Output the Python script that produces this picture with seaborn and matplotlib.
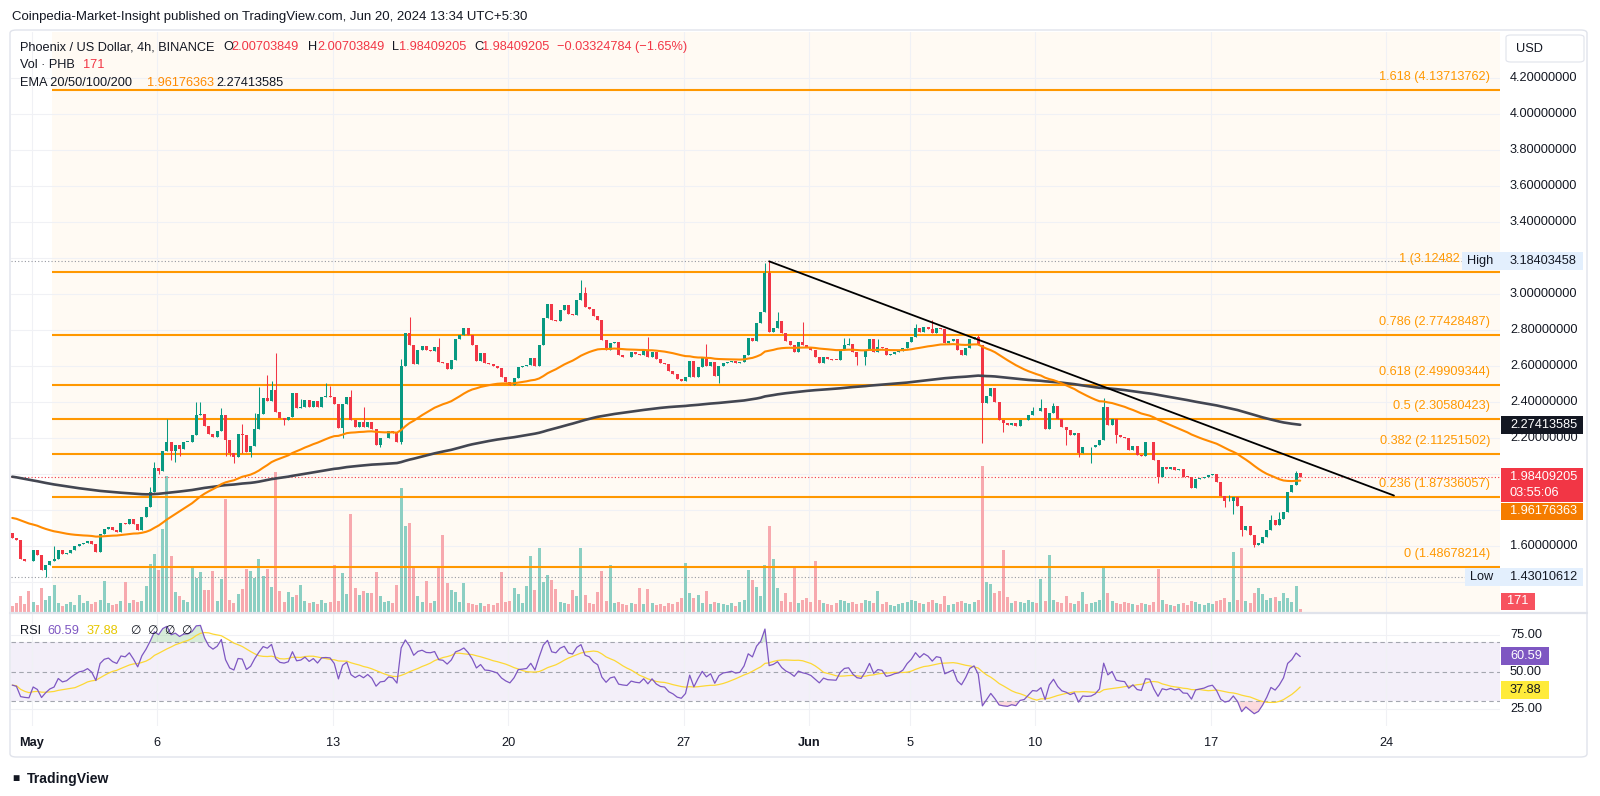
import numpy as np
import pandas as pd
import matplotlib
matplotlib.use("Agg")
import matplotlib.pyplot as plt
from matplotlib.patches import Rectangle, FancyBboxPatch
from matplotlib.lines import Line2D
import seaborn as sns

# ---------------- data ----------------
first_open = 1.674
closes = [
    1.648, 1.637, 1.531, 1.522, 1.517, 1.578, 1.555, 1.470, 1.498, 1.520,
    1.531, 1.583, 1.556, 1.563, 1.583, 1.600, 1.615, 1.620, 1.633, 1.615,
    1.568, 1.667, 1.698, 1.707, 1.689, 1.680, 1.730, 1.726, 1.754, 1.726,
    1.689, 1.763, 1.818, 1.902, 2.037, 2.022, 2.133, 2.180, 2.133, 2.161,
    2.143, 2.180, 2.183, 2.222, 2.328, 2.337, 2.272, 2.226, 2.207, 2.240,
    2.328, 2.190, 2.118, 2.099, 2.225, 2.220, 2.127, 2.160, 2.250, 2.336,
    2.423, 2.410, 2.470, 2.349, 2.312, 2.305, 2.320, 2.450, 2.368, 2.377,
    2.414, 2.377, 2.410, 2.373, 2.432, 2.435, 2.432, 2.392, 2.257, 2.392,
    2.428, 2.300, 2.266, 2.290, 2.262, 2.292, 2.253, 2.164, 2.200, 2.205,
    2.241, 2.232, 2.182, 2.603, 2.784, 2.720, 2.614, 2.690, 2.714, 2.690,
    2.687, 2.707, 2.627, 2.621, 2.584, 2.636, 2.751, 2.775, 2.812, 2.775,
    2.719, 2.633, 2.673, 2.618, 2.614, 2.603, 2.590, 2.544, 2.516, 2.497,
    2.534, 2.599, 2.603, 2.608, 2.649, 2.603, 2.719, 2.868, 2.945, 2.858,
    2.850, 2.914, 2.942, 2.892, 2.885, 2.970, 3.010, 2.932, 2.920, 2.880,
    2.858, 2.747, 2.692, 2.729, 2.738, 2.664, 2.655, 2.650, 2.680, 2.670,
    2.665, 2.690, 2.650, 2.680, 2.640, 2.620, 2.615, 2.577, 2.559, 2.530,
    2.520, 2.540, 2.633, 2.543, 2.595, 2.645, 2.603, 2.625, 2.547, 2.600,
    2.620, 2.625, 2.632, 2.620, 2.625, 2.664, 2.757, 2.740, 2.844, 2.905,
    3.117, 2.794, 2.812, 2.850, 2.785, 2.744, 2.720, 2.682, 2.738, 2.720,
    2.710, 2.692, 2.655, 2.617, 2.655, 2.640, 2.637, 2.635, 2.690, 2.720,
    2.725, 2.682, 2.655, 2.650, 2.690, 2.750, 2.683, 2.710, 2.705, 2.664,
    2.670, 2.680, 2.685, 2.700, 2.738, 2.765, 2.812, 2.790, 2.817, 2.806,
    2.784, 2.812, 2.808, 2.730, 2.740, 2.750, 2.690, 2.665, 2.700, 2.750,
    2.765, 2.720, 2.395, 2.436, 2.480, 2.405, 2.300, 2.284, 2.275, 2.285,
    2.270, 2.300, 2.305, 2.330, 2.355, 2.350, 2.368, 2.250, 2.340, 2.380,
    2.310, 2.262, 2.247, 2.220, 2.230, 2.118, 2.155, 2.150, 2.152, 2.164,
    2.190, 2.377, 2.275, 2.306, 2.220, 2.210, 2.205, 2.136, 2.160, 2.110,
    2.100, 2.182, 2.178, 2.080, 1.988, 2.043, 2.030, 2.040, 2.023, 2.030,
    1.988, 1.985, 1.923, 1.975, 1.980, 1.985, 1.995, 2.000, 1.960, 1.880,
    1.850, 1.855, 1.877, 1.825, 1.692, 1.715, 1.665, 1.609, 1.620, 1.650,
    1.690, 1.745, 1.720, 1.750, 1.794, 1.905, 1.940, 2.007, 1.984,
]
# notable wick extremes (candle index -> price)
wick_high = {10: 1.60, 33: 1.93, 34: 2.07, 37: 2.31, 44: 2.40, 45: 2.40, 50: 2.37,
             55: 2.28, 58: 2.34, 59: 2.485, 61: 2.553, 62: 2.52, 63: 2.673, 69: 2.418,
             75: 2.51, 76: 2.493, 81: 2.469, 84: 2.377, 93: 2.64, 95: 2.873, 102: 2.756,
             136: 3.081, 137: 3.04, 152: 2.766, 166: 2.725, 180: 3.173, 181: 3.18403458,
             183: 2.905, 189: 2.849, 199: 2.757, 200: 2.757, 207: 2.751, 216: 2.836,
             220: 2.858, 231: 2.775, 244: 2.373, 246: 2.418, 249: 2.395, 261: 2.423,
             291: 1.886, 301: 1.775, 303: 1.793, 307: 2.02}
wick_low = {8: 1.43010612, 35: 2.0, 38: 2.078, 39: 2.07, 40: 2.10, 51: 2.10, 52: 2.10,
            53: 2.065, 55: 2.12, 57: 2.099, 65: 2.275, 79: 2.201, 88: 2.15, 93: 2.17,
            169: 2.507, 202: 2.608, 204: 2.608, 232: 2.173, 237: 2.238, 252: 2.164,
            255: 2.099, 258: 2.066, 264: 2.177, 274: 1.951, 290: 1.821, 292: 1.781,
            294: 1.66, 297: 1.599}
volumes = [
    6, 9, 16, 8, 21, 10, 7, 24, 12, 16,
    27, 9, 6, 8, 10, 7, 17, 9, 11, 8,
    10, 12, 31, 9, 7, 8, 11, 30, 9, 12,
    10, 11, 26, 48, 58, 42, 83, 136, 56, 20,
    16, 12, 10, 44, 34, 40, 22, 22, 41, 11,
    33, 113, 12, 9, 18, 23, 43, 41, 34, 53,
    36, 43, 25, 140, 21, 10, 20, 15, 17, 27,
    11, 9, 10, 8, 12, 9, 10, 47, 11, 39,
    18, 98, 24, 17, 21, 19, 19, 40, 16, 10,
    11, 9, 27, 124, 86, 89, 44, 16, 10, 31,
    9, 11, 46, 77, 29, 22, 20, 10, 29, 9,
    8, 7, 9, 6, 8, 7, 9, 40, 10, 11,
    24, 18, 9, 26, 56, 22, 64, 30, 37, 32,
    23, 10, 9, 8, 22, 16, 64, 17, 9, 8,
    20, 41, 11, 47, 9, 10, 8, 7, 9, 8,
    24, 8, 23, 9, 7, 8, 6, 9, 8, 10,
    14, 49, 19, 14, 17, 9, 21, 8, 10, 9,
    8, 7, 9, 6, 10, 12, 42, 32, 25, 16,
    47, 86, 53, 24, 11, 19, 10, 44, 9, 12,
    14, 10, 51, 12, 9, 8, 7, 9, 12, 11,
    9, 10, 8, 9, 12, 11, 9, 21, 8, 10,
    7, 6, 8, 9, 10, 12, 11, 9, 8, 10,
    12, 9, 8, 16, 7, 8, 10, 11, 9, 8,
    10, 12, 146, 30, 28, 19, 21, 62, 15, 9,
    11, 10, 9, 12, 10, 9, 33, 11, 57, 12,
    10, 9, 16, 9, 8, 11, 20, 8, 9, 10,
    12, 44, 19, 11, 9, 8, 10, 9, 8, 7,
    9, 8, 7, 10, 43, 12, 8, 7, 6, 8,
    9, 7, 11, 10, 8, 7, 9, 8, 11, 12,
    14, 10, 60, 12, 64, 11, 9, 19, 24, 18,
    12, 14, 15, 11, 19, 14, 10, 26, 3,
]
first_candle = "2024-04-30 05:30"
ema50_seed = 1.763
ema200_seed = 1.991
rsi_seed_gain, rsi_seed_loss = 0.018, 0.024

fib_levels = ["0", "0.236", "0.382", "0.5", "0.618", "0.786", "1", "1.618"]
fib_prices = [1.48678214, 1.87336057, 2.11251502, 2.30580423, 2.49909344,
              2.77428487, 3.12482632, 4.13713762]
fib_visible_text = {"1": "1 (3.12482"}   # part left uncovered by the High label
fib_start = "2024-05-01 19:48"
trend_pts = [("2024-05-30 09:30", 3.18403458), ("2024-06-24 07:10", 1.883)]

grid_prices = [4.2, 4.0, 3.8, 3.6, 3.4, 3.2, 3.0, 2.8, 2.6, 2.4, 2.2, 2.0, 1.8, 1.6, 1.4]
price_labels = [4.2, 4.0, 3.8, 3.6, 3.4, 3.0, 2.8, 2.6, 2.4, 2.2, 1.6]
rsi_ticks = [75, 50, 25]
date_ticks = ["2024-05-01", "2024-05-06", "2024-05-13", "2024-05-20", "2024-05-27",
              "2024-06-01", "2024-06-05", "2024-06-10", "2024-06-17", "2024-06-24"]
date_labels = ["May", "6", "13", "20", "27", "Jun", "5", "10", "17", "24"]
bold_labels = {"May", "Jun"}

last_price, ema50_last, ema200_last = 1.98409205, 1.96176363, 2.27413585
high_val, low_val = 3.18403458, 1.43010612
rsi_last, rsi_ma_last = 60.59, 37.88

# ---------------- derived series ----------------
sns.set_theme(style="white")
plt.rcParams["font.family"] = ["Liberation Sans", "DejaVu Sans"]

origin = pd.Timestamp("2024-05-01")
def to_d(ts):
    return (pd.Timestamp(ts) - origin) / pd.Timedelta("1D")

times = pd.date_range(first_candle, periods=len(closes), freq="4h")
xd = np.asarray((times - origin) / pd.Timedelta("1D"), dtype=float)
c = np.array(closes)
o = np.array([first_open] + closes[:-1])
hi = np.maximum(o, c)
lo = np.minimum(o, c)
for k, v in wick_high.items():
    hi[k] = max(hi[k], v)
for k, v in wick_low.items():
    lo[k] = min(lo[k], v)
up = c >= o
GREEN, RED = "#089981", "#F23645"
ccol = np.where(up, GREEN, RED)
vcol = np.where(up, "#8CCFC3", "#F7A9AE")

ema50 = pd.Series([ema50_seed] + closes).ewm(span=50, adjust=False).mean().iloc[1:].values
ema200 = pd.Series([ema200_seed] + closes).ewm(span=200, adjust=False).mean().iloc[1:].values
chg = c - o
ag = pd.Series(np.r_[rsi_seed_gain, np.clip(chg, 0, None)]).ewm(alpha=1/14, adjust=False).mean().iloc[1:].values
al = pd.Series(np.r_[rsi_seed_loss, np.clip(-chg, 0, None)]).ewm(alpha=1/14, adjust=False).mean().iloc[1:].values
rsi = 100 - 100 / (1 + ag / al)
rsi_ma = pd.Series(rsi).rolling(14, min_periods=1).mean().values
df = pd.DataFrame({"d": xd, "ema50": ema50, "ema200": ema200, "rsi": rsi, "rsi_ma": rsi_ma})

# ---------------- layout ----------------
W, H = 1600, 796
fig = plt.figure(figsize=(W / 100, H / 100), dpi=100)
fig.patch.set_facecolor("white")
def X(px): return px / W
def Y(py): return 1 - py / H
def rect(l, t, r, b): return [X(l), Y(b), X(r) - X(l), Y(t) - Y(b)]
def fs(px): return px * 0.72

XMIN, XMAX = -0.821, 58.525
PMIN, PMAX = 1.236, 4.458
RMIN, RMAX = 13.2, 89.1

main_rect = rect(11, 32, 1500, 612)
ax_bg = fig.add_axes(main_rect)
ax_vol = fig.add_axes(main_rect, sharex=ax_bg)
ax = fig.add_axes(main_rect, sharex=ax_bg)
ax_rsi = fig.add_axes(rect(11, 614, 1500, 726), sharex=ax_bg)
for a in (ax_bg, ax_vol, ax, ax_rsi):
    a.set_axis_off()
    a.patch.set_alpha(0)
ax_bg.set_ylim(PMIN, PMAX)
ax.set_ylim(PMIN, PMAX)
ax_vol.set_ylim(0, 580)
ax_rsi.set_ylim(RMIN, RMAX)
ax_bg.set_xlim(XMIN, XMAX)

tick_d = [to_d(t) for t in date_ticks]
fib_x0 = to_d(fib_start)

# background: cream fib zone + grid
ax_bg.axvspan(fib_x0, XMAX, color="#FFFAF3", lw=0, zorder=0)
for p in grid_prices:
    ax_bg.axhline(p, color="#F0F1F5", lw=0.8, zorder=1)
for d in tick_d:
    ax_bg.axvline(d, color="#F0F1F5", lw=0.8, zorder=1)
    ax_rsi.axvline(d, color="#F0F1F5", lw=0.8, zorder=1)

# volume
ax_vol.bar(xd, volumes, width=0.12, color=vcol, linewidth=0, zorder=2)

# fib lines
ax.hlines(fib_prices, fib_x0, XMAX, color="#FF9800", lw=1.5, zorder=2)
# high / low / last price dotted lines
ax.axhline(high_val, color="#9598A1", lw=0.8, ls=(0, (1, 2)), zorder=2)
ax.axhline(low_val, color="#9598A1", lw=0.8, ls=(0, (1, 2)), zorder=2)
ax.axhline(last_price, color=RED, lw=0.8, ls=(0, (1, 2)), zorder=2)

# candles
ax.vlines(xd, lo, hi, colors=ccol, lw=0.75, zorder=3)
ax.bar(xd, np.maximum(np.abs(c - o), 0.005), bottom=np.minimum(o, c), width=0.12,
       color=ccol, linewidth=0, zorder=3.1)

# EMAs
sns.lineplot(data=df, x="d", y="ema200", ax=ax, color="#434651", lw=1.9, zorder=4)
sns.lineplot(data=df, x="d", y="ema50", ax=ax, color="#FF8A00", lw=1.5, zorder=4.1)

# trend line
tx = [to_d(t) for t, _ in trend_pts]
ty = [p for _, p in trend_pts]
ax.plot(tx, ty, color="black", lw=1.3, zorder=5)
ax.set_xlim(XMIN, XMAX)
ax.set_ylim(PMIN, PMAX)

# RSI pane
ax_rsi.axhspan(30, 70, color="#7E57C2", alpha=0.09, lw=0, zorder=0)
for v in (25, 75):
    ax_rsi.axhline(v, color="#F0F1F5", lw=0.8, zorder=1)
for v in (70, 50, 30):
    ax_rsi.axhline(v, color="#A3A6AF", lw=0.8, ls=(0, (4, 3)), zorder=1.5)
ax_rsi.fill_between(xd, 70, rsi, where=rsi > 70, interpolate=True, color="#66BB6A", alpha=0.25, lw=0)
ax_rsi.fill_between(xd, 30, rsi, where=rsi < 30, interpolate=True, color="#F23645", alpha=0.18, lw=0)
sns.lineplot(data=df, x="d", y="rsi_ma", ax=ax_rsi, color="#FDD835", lw=0.9, zorder=3)
sns.lineplot(data=df, x="d", y="rsi", ax=ax_rsi, color="#7E57C2", lw=0.9, zorder=4)
ax_rsi.set_xlim(XMIN, XMAX)
ax_rsi.set_ylim(RMIN, RMAX)
for a in (ax, ax_rsi, ax_bg, ax_vol):
    a.set_axis_off()

# ---------------- helpers for annotations ----------------
fig.canvas.draw()
def py_price(p):
    return H - ax.transData.transform((0, p))[1]
def py_rsi(v):
    return H - ax_rsi.transData.transform((0, v))[1]
def ftext(x, y, s, **kw):
    kw.setdefault("va", "center")
    kw.setdefault("fontsize", fs(12.8))
    kw.setdefault("color", "#131722")
    return fig.text(X(x), Y(y), s, **kw)
def box(l, t, r, b, color, ec="none", z=5):
    fig.add_artist(Rectangle((X(l), Y(b)), X(r) - X(l), Y(t) - Y(b), transform=fig.transFigure,
                             facecolor=color, edgecolor=ec, lw=0.8, zorder=z))

# frame and separators
fig.add_artist(FancyBboxPatch((X(10), Y(757)), X(1587) - X(10), Y(30) - Y(757),
                              boxstyle="round,pad=0,rounding_size=0.004", transform=fig.transFigure,
                              fill=False, ec="#E0E3EB", lw=1.0, zorder=1))
fig.add_artist(Line2D([X(10), X(1587)], [Y(613), Y(613)], color="#E0E3EB", lw=1.6, zorder=1))

# header
ftext(12, 17, "Coinpedia-Market-Insight published on TradingView.com, Jun 20, 2024 13:34 UTC+5:30",
      fontsize=fs(13.2))

# legend lines
ftext(20, 47, "Phoenix / US Dollar, 4h, BINANCE")
for lx, lab, vx, val in [(223, "O", 231, "2.00703849"), (308, "H", 317, "2.00703849"),
                         (392, "L", 399, "1.98409205"), (474, "C", 482, "1.98409205")]:
    ftext(lx, 47, lab)
    ftext(vx, 47, val, color=RED)
ftext(557, 47, "\u22120.03324784 (\u22121.65%)", color=RED)
ftext(20, 65, "Vol \u00b7 PHB")
ftext(83, 65, "171", color=RED)
ftext(20, 83, "EMA 20/50/100/200")
ftext(147, 83, "1.96176363", color="#FF8A00")
ftext(216, 83, "2.27413585")

# fib labels
for lev, p in zip(fib_levels, fib_prices):
    if lev in fib_visible_text:
        ftext(1460, py_price(p) - 13, fib_visible_text[lev], ha="right", color="#FF9800", zorder=3)
    else:
        ftext(1490, py_price(p) - 13, f"{lev} ({p:.8f})", ha="right", color="#FF9800", zorder=3)

# price axis labels
for p in price_labels:
    ftext(1510, py_price(p), f"{p:.8f}", zorder=3)

# USD box
fig.add_artist(FancyBboxPatch((X(1506), Y(62)), X(1584) - X(1506), Y(35) - Y(62),
                              boxstyle="round,pad=0,rounding_size=0.003", transform=fig.transFigure,
                              facecolor="white", ec="#E0E3EB", lw=0.8, zorder=5))
ftext(1516, 48.5, "USD", zorder=6)

# High / Low boxes
yh = py_price(high_val)
box(1462, yh - 9, 1583, yh + 9, "#E3EFFD")
ftext(1467, yh, "High", zorder=6)
ftext(1510, yh, f"{high_val:.8f}", zorder=6)
yl = py_price(low_val)
box(1465, yl - 9, 1583, yl + 9, "#E3EFFD")
ftext(1470, yl, "Low", zorder=6)
ftext(1510, yl, f"{low_val:.8f}", zorder=6)

# EMA200 box
ye = py_price(ema200_last)
box(1501, ye - 8.7, 1583, ye + 8.7, "#131722")
ftext(1510, ye, f"{ema200_last:.8f}", color="white", zorder=6)
# last price box (two lines)
yp = py_price(last_price)
box(1501, yp - 9.5, 1583, yp + 24.5, RED)
ftext(1510, yp, f"{last_price:.8f}", color="white", zorder=6)
ftext(1510, yp + 16, "03:55:06", color="white", zorder=6)
# EMA50 box below
box(1501, yp + 25.5, 1583, yp + 42.5, "#F57C00")
ftext(1510, yp + 34, f"{ema50_last:.8f}", color="white", zorder=6)
# volume box
box(1501, 593, 1535, 610, "#F7525F")
ftext(1518, 601.5, "171", color="white", ha="center", zorder=6)

# RSI legend + axis
ftext(20, 631, "RSI")
ftext(47, 631, f"{rsi_last:.2f}", color="#7E57C2")
ftext(87, 631, f"{rsi_ma_last:.2f}", color="#E6C700")
for xx in (130, 147, 164, 181):
    ftext(xx, 631, "\u2205", color="#131722", fontsize=fs(12))
for v in rsi_ticks:
    ftext(1510, py_rsi(v), f"{v:.2f}", zorder=3)
yr = py_rsi(rsi_last)
box(1501, yr - 9, 1549, yr + 9, "#7E57C2")
ftext(1510, yr, f"{rsi_last:.2f}", color="white", zorder=6)
ym = py_rsi(rsi_ma_last)
box(1501, ym - 9, 1549, ym + 9, "#FFEB3B")
ftext(1510, ym, f"{rsi_ma_last:.2f}", color="#131722", zorder=6)

# time axis labels
for d, lab in zip(tick_d, date_labels):
    xpx = ax_rsi.transData.transform((d, 0))[0]
    ftext(xpx, 743, lab, ha="center", fontweight="bold" if lab in bold_labels else "normal")

# TradingView logo
ftext(12, 779, "\u25A0", fontsize=fs(12), color="#131722")
ftext(27, 779, "TradingView", fontsize=fs(14), fontweight="bold", color="#131722")

fig.savefig("out.png", dpi=100, facecolor="white")
